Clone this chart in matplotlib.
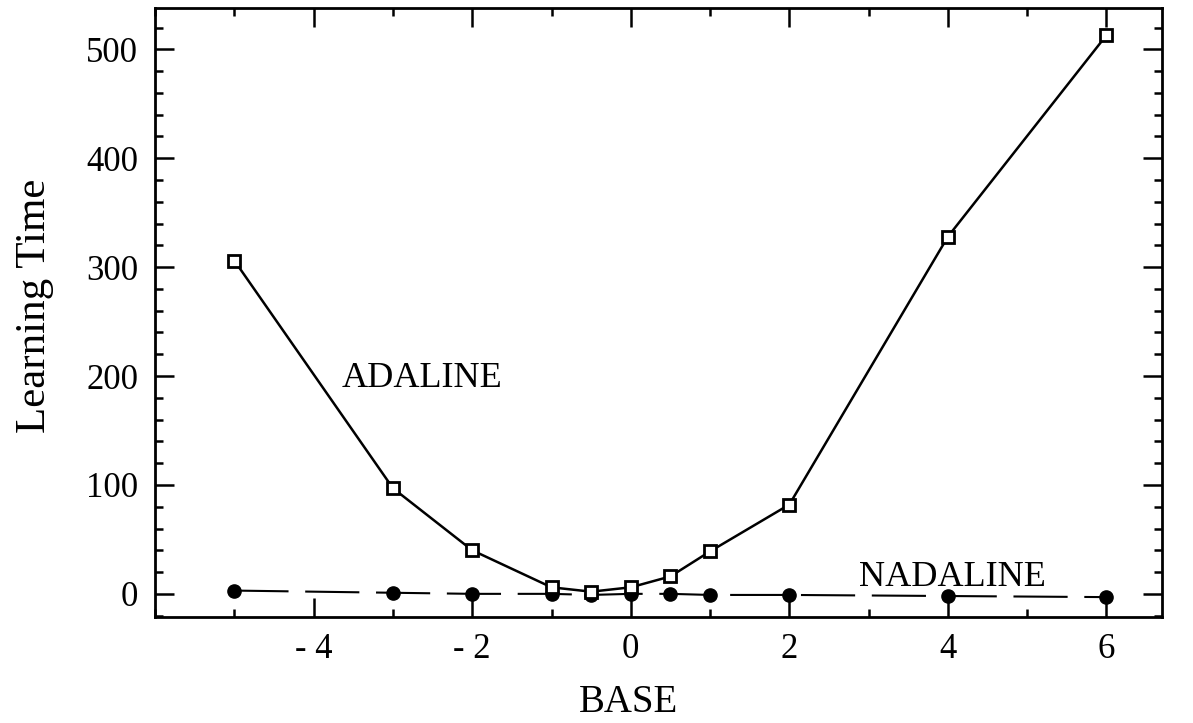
import matplotlib.pyplot as plt
from matplotlib.ticker import MultipleLocator, FixedLocator

plt.rcParams['font.family'] = ['Liberation Serif', 'DejaVu Serif']

# values
base = [-5, -3, -2, -1, -0.5, 0, 0.5, 1, 2, 4, 6]
adaline = [306, 97, 40, 6, 2, 6, 16, 39, 82, 328, 513]
nadaline = [3, 1, 0, 0, -1, 0, 0, -1, -1, -2, -3]

x_ticks = [-4, -2, 0, 2, 4, 6]
x_tick_labels = ['- 4', '- 2', '0', '2', '4', '6']
y_ticks = [0, 100, 200, 300, 400, 500]

fig = plt.figure(figsize=(11.93, 7.23), dpi=100)
ax = fig.add_axes([0.130, 0.147, 0.844, 0.842])

ax.plot(base, nadaline, color='black', lw=1.5, dashes=(26, 8),
        marker='o', markersize=9.5, markerfacecolor='black', markeredgecolor='black')
ax.plot(base, adaline, color='black', lw=1.8,
        marker='s', markersize=9, markerfacecolor='white', markeredgecolor='black',
        markeredgewidth=2)

ax.set_xlim(-6, 6.7)
ax.set_ylim(-21, 538)

ax.xaxis.set_major_locator(FixedLocator(x_ticks))
ax.set_xticklabels(x_tick_labels)
ax.xaxis.set_minor_locator(MultipleLocator(1))
ax.yaxis.set_major_locator(FixedLocator(y_ticks))
ax.yaxis.set_minor_locator(MultipleLocator(20))

ax.tick_params(which='both', direction='in', top=True, right=True, width=1.8,
               labelsize=25, pad=12)
ax.tick_params(which='major', length=14)
ax.tick_params(which='minor', length=6)
for s in ax.spines.values():
    s.set_linewidth(2)

ax.set_xlabel('BASE', fontsize=28)
ax.xaxis.set_label_coords(0.47, -0.11)
ax.set_ylabel('Learning Time', fontsize=31)
ax.yaxis.set_label_coords(-0.1, 0.51)

ax.text(-2.63, 198, 'ADALINE', fontsize=26, ha='center', va='center')
ax.text(4.06, 15, 'NADALINE', fontsize=26, ha='center', va='center')

fig.savefig('out.png', dpi=100)
